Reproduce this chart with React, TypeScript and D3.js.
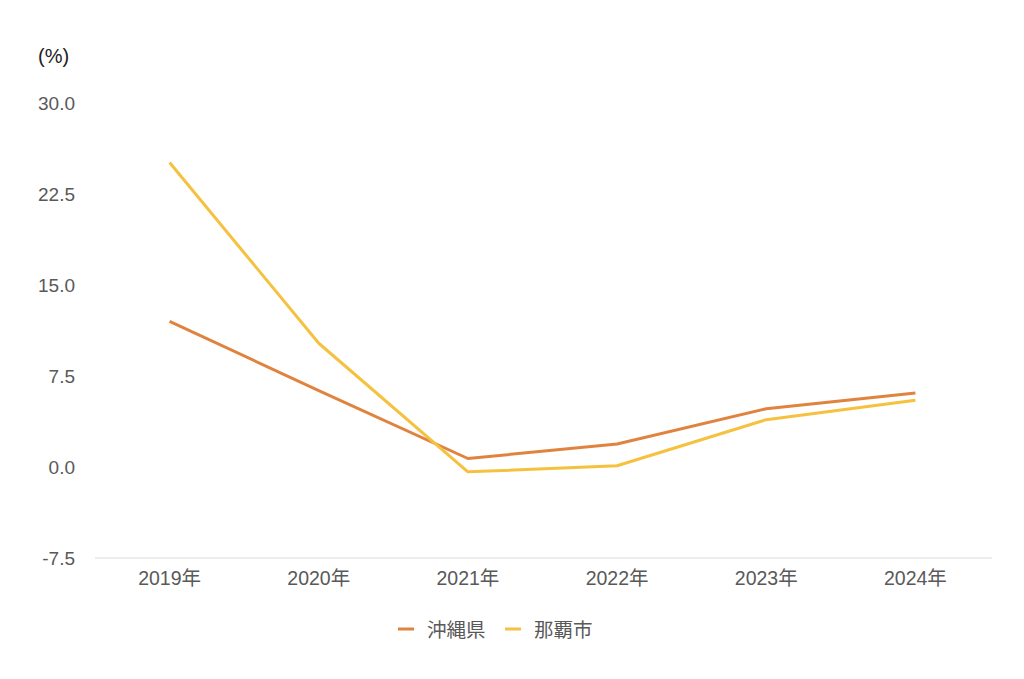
import React from 'react';
import * as d3 from 'd3';

// Data
const years = ['2019年', '2020年', '2021年', '2022年', '2023年', '2024年'];
const okinawa = [12.0, 6.3, 0.7, 1.9, 4.8, 6.1];
const naha = [25.1, 10.2, -0.4, 0.1, 3.9, 5.5];
const yTicks = [-7.5, 0, 7.5, 15, 22.5, 30];
const seriesNames = ['沖縄県', '那覇市'];

const width = 1024;
const height = 679;
const plot = { left: 95, right: 990, top: 103, bottom: 558 };

const colors = ['#E0833F', '#F5C13F'];
const textColor = '#595959';
const fontFamily = '"Liberation Sans", Arial, "Noto Sans CJK JP", sans-serif';

export default function App() {
  const x = d3.scalePoint<string>()
    .domain(years)
    .range([plot.left, plot.right])
    .padding(0.5);

  const y = d3.scaleLinear()
    .domain([-7.5, 30])
    .range([plot.bottom, plot.top]);

  const line = d3.line<number>()
    .x((_, i) => x(years[i]) as number)
    .y(d => y(d));

  const series = [okinawa, naha];

  return (
    <svg
      width={width}
      height={height}
      viewBox={`0 0 ${width} ${height}`}
      style={{ position: 'absolute', left: 0, top: 0, background: '#fff' }}
      fontFamily={fontFamily}
    >
      {/* unit label */}
      <text x={38} y={56} fontSize={20} fill="#222" dominantBaseline="central">(%)</text>

      {/* y tick labels */}
      {yTicks.map(t => (
        <text
          key={t}
          x={75}
          y={y(t)}
          fontSize={19}
          fill={textColor}
          textAnchor="end"
          dominantBaseline="central"
        >
          {t.toFixed(1)}
        </text>
      ))}

      {/* x axis baseline */}
      <line
        x1={plot.left}
        x2={plot.right + 2}
        y1={y(-7.5)}
        y2={y(-7.5)}
        stroke="#d9d9d9"
        strokeWidth={1.2}
      />

      {/* x tick labels */}
      {years.map(yr => (
        <text
          key={yr}
          x={x(yr)}
          y={plot.bottom + 20}
          fontSize={19.5}
          fill={textColor}
          textAnchor="middle"
          dominantBaseline="central"
        >
          {yr}
        </text>
      ))}

      {/* lines */}
      {series.map((s, i) => (
        <path
          key={i}
          d={line(s) || ''}
          fill="none"
          stroke={colors[i]}
          strokeWidth={3}
          strokeLinejoin="round"
        />
      ))}

      {/* legend */}
      {seriesNames.map((name, i) => {
        const lx = 398 + i * 107;
        return (
          <g key={name}>
            <line x1={lx} x2={lx + 16} y1={629} y2={629} stroke={colors[i]} strokeWidth={3} />
            <text
              x={lx + 29}
              y={630}
              fontSize={19.5}
              fill={textColor}
              dominantBaseline="central"
            >
              {name}
            </text>
          </g>
        );
      })}
    </svg>
  );
}
